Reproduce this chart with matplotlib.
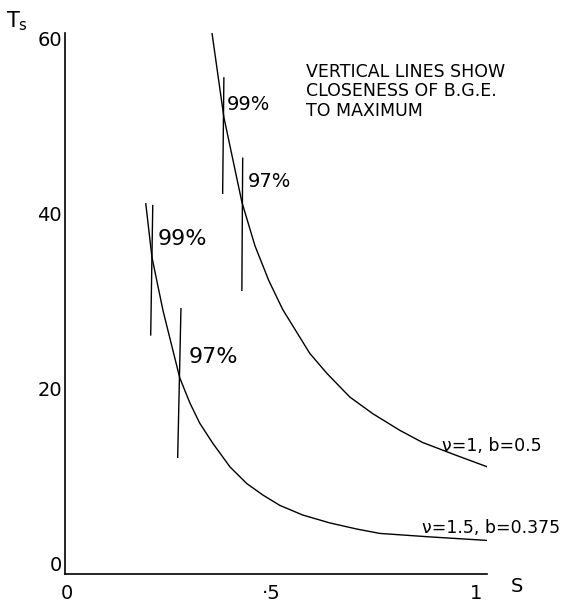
import matplotlib.pyplot as plt

# curve v=1, b=0.5
s_upper = [0.355, 0.384, 0.428, 0.460, 0.494, 0.528, 0.594, 0.636, 0.692, 0.748,
           0.814, 0.870, 0.954, 1.029]
ts_upper = [60.6, 51.0, 41.3, 36.3, 32.3, 29.0, 24.0, 21.7, 19.0, 17.1,
            15.2, 13.8, 12.3, 11.0]

# curve v=1.5, b=0.375
s_lower = [0.193, 0.208, 0.235, 0.276, 0.301, 0.325, 0.357, 0.399, 0.440,
           0.479, 0.521, 0.577, 0.643, 0.709, 0.765, 0.888, 1.027]
ts_lower = [41.1, 35.0, 28.9, 21.2, 18.3, 16.0, 13.7, 11.0, 9.1,
            7.8, 6.6, 5.5, 4.6, 3.9, 3.4, 3.0, 2.6]

# vertical marker lines: (x_top, y_top, x_bottom, y_bottom)
markers = [
    (0.384, 55.5, 0.381, 42.3),
    (0.430, 46.3, 0.428, 31.2),
    (0.210, 40.9, 0.205, 26.1),
    (0.279, 29.1, 0.271, 12.1),
]
marker_labels = ["99%", "97%", "99%", "97%"]
label_pos = [(0.392, 52.5), (0.443, 43.7), (0.222, 37.1), (0.298, 23.6)]
label_size = [14, 14, 16, 16]

xticks = [0, 0.5, 1]
xtick_labels = ["0", "\u00b75", "1"]
yticks = [0, 20, 40, 60]

fig = plt.figure(figsize=(5.64, 6.05), dpi=100)
ax = fig.add_axes([0.115, 0.051, 0.748, 0.894])

ax.plot(s_upper, ts_upper, color="black", lw=1.0)
ax.plot(s_lower, ts_lower, color="black", lw=1.0)

for (x0, y0, x1, y1) in markers:
    ax.plot([x0, x1], [y0, y1], color="black", lw=1.0)

for txt, (x, y), fs in zip(marker_labels, label_pos, label_size):
    ax.text(x, y, txt, fontsize=fs, ha="left", va="center")

ax.text(0.917, 12.8, "\u03bd=1, b=0.5", fontsize=12.5, ha="left", va="baseline")
ax.text(0.868, 3.4, "\u03bd=1.5, b=0.375", fontsize=12.5, ha="left", va="baseline")

ax.text(0.584, 57.2, "VERTICAL LINES SHOW\nCLOSENESS OF B.G.E.\nTO MAXIMUM",
        fontsize=12.5, ha="left", va="top", linespacing=1.1)

ax.set_xlim(-0.005, 1.027)
ax.set_ylim(-1.26, 60.6)
ax.set_xticks(xticks)
ax.set_xticklabels(xtick_labels)
ax.set_yticks(yticks)
ax.tick_params(axis="both", length=0, labelsize=14)
ax.tick_params(axis="x", pad=7)
ax.tick_params(axis="y", pad=2)

ax.spines["top"].set_visible(False)
ax.spines["right"].set_visible(False)
ax.spines["left"].set_linewidth(1.2)
ax.spines["bottom"].set_linewidth(1.2)

fig.text(0.01, 0.965, "$\\mathregular{T_s}$", fontsize=15, ha="left", va="center")
fig.text(0.905, 0.015, "S", fontsize=14, ha="left", va="bottom")

fig.savefig("out.png")
